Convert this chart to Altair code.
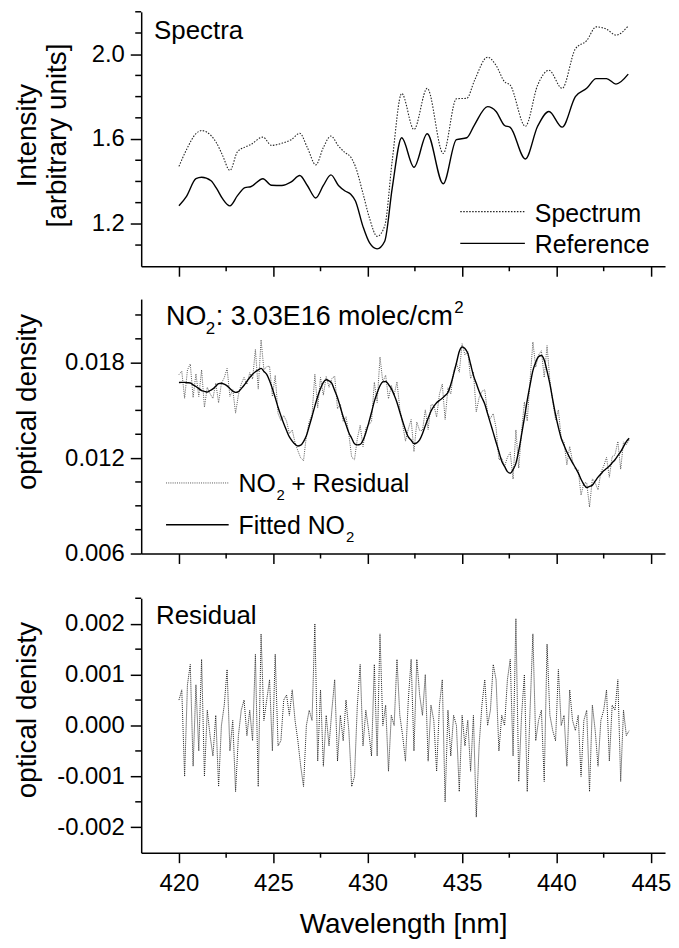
import altair as alt
import pandas as pd

FONT = "Liberation Sans"
W = 527
H = 256
X_DOMAIN = [418, 445.75]

x_major = [420, 425, 430, 435, 440, 445]
x_minor = [422.5, 427.5, 432.5, 437.5, 442.5]

# ---------------- Panel 1: spectra ----------------
spec_wl = [420.0, 420.4, 420.9, 421.2, 421.7, 422.0, 422.3, 422.7, 423.1, 423.5,
           423.8, 424.45, 424.9, 425.45, 425.95, 426.4, 426.8, 427.25, 427.65, 428.05,
           428.45, 428.8, 429.1, 429.35, 429.75, 430.1, 430.5, 430.9, 431.3, 431.8,
           432.45, 433.15, 434.0, 434.7, 435.25, 435.65, 436.35, 436.8, 437.25, 437.55,
           438.35, 439.0, 439.6, 440.3, 441.0, 441.6, 442.1, 442.65, 443.15, 443.8]
spectrum = [1.471, 1.550, 1.625, 1.640, 1.616, 1.580, 1.525, 1.452, 1.540, 1.562,
            1.574, 1.609, 1.570, 1.580, 1.597, 1.627, 1.560, 1.478, 1.560, 1.614,
            1.567, 1.536, 1.515, 1.470, 1.343, 1.225, 1.141, 1.190, 1.500, 1.815,
            1.645, 1.839, 1.532, 1.790, 1.792, 1.875, 1.986, 1.947, 1.870, 1.854,
            1.660, 1.854, 1.924, 1.839, 2.025, 2.064, 2.129, 2.118, 2.090, 2.133]
reference = [1.285, 1.330, 1.413, 1.420, 1.403, 1.366, 1.320, 1.285, 1.333, 1.371,
             1.375, 1.413, 1.382, 1.381, 1.398, 1.428, 1.381, 1.322, 1.381, 1.431,
             1.381, 1.355, 1.340, 1.308, 1.187, 1.110, 1.082, 1.118, 1.370, 1.606,
             1.467, 1.625, 1.389, 1.597, 1.606, 1.666, 1.753, 1.730, 1.664, 1.655,
             1.506, 1.660, 1.730, 1.656, 1.800, 1.839, 1.885, 1.885, 1.859, 1.906]
p1_y_domain = [1.0, 2.2]
p1_y_major = [1.2, 1.6, 2.0]
p1_y_minor = [1.1, 1.3, 1.4, 1.5, 1.7, 1.8, 1.9, 2.1, 2.2]

# ---------------- Panels 2 and 3: NO2 fit and residual ----------------
grid_start = 420.0
grid_step = 0.15
fitted_no2 = [
    0.01675, 0.01676, 0.01676, 0.01674, 0.01672, 0.01661, 0.01650, 0.01637, 0.01625, 0.01620,
    0.01615, 0.01625, 0.01635, 0.01652, 0.01668, 0.01671, 0.01665, 0.01654, 0.01638, 0.01621,
    0.01613, 0.01618, 0.01637, 0.01658, 0.01683, 0.01707, 0.01727, 0.01743, 0.01754, 0.01764,
    0.01745, 0.01726, 0.01687, 0.01637, 0.01580, 0.01520, 0.01467, 0.01417, 0.01373, 0.01333,
    0.01307, 0.01287, 0.01276, 0.01281, 0.01304, 0.01340, 0.01400, 0.01462, 0.01527, 0.01587,
    0.01637, 0.01676, 0.01693, 0.01686, 0.01670, 0.01625, 0.01580, 0.01520, 0.01460, 0.01410,
    0.01360, 0.01325, 0.01290, 0.01283, 0.01286, 0.01312, 0.01360, 0.01420, 0.01487, 0.01557,
    0.01610, 0.01655, 0.01679, 0.01682, 0.01663, 0.01637, 0.01597, 0.01550, 0.01490, 0.01432,
    0.01377, 0.01333, 0.01312, 0.01291, 0.01296, 0.01314, 0.01353, 0.01403, 0.01450, 0.01495,
    0.01525, 0.01548, 0.01563, 0.01576, 0.01593, 0.01613, 0.01663, 0.01728, 0.01798, 0.01870,
    0.01899, 0.01889, 0.01860, 0.01790, 0.01720, 0.01670, 0.01620, 0.01580, 0.01540, 0.01480,
    0.01420, 0.01360, 0.01300, 0.01240, 0.01180, 0.01148, 0.01115, 0.01105, 0.01128, 0.01167,
    0.01247, 0.01347, 0.01453, 0.01563, 0.01660, 0.01750, 0.01803, 0.01838, 0.01845, 0.01817,
    0.01747, 0.01667, 0.01567, 0.01473, 0.01393, 0.01325, 0.01280, 0.01238, 0.01203, 0.01170,
    0.01140, 0.01107, 0.01067, 0.01034, 0.01015, 0.01022, 0.01030, 0.01055, 0.01080, 0.01100,
    0.01120, 0.01135, 0.01150, 0.01170, 0.01190, 0.01215, 0.01240, 0.01272, 0.01304, 0.01325]
# residual in units of 1e-4 optical density
residual_e4 = [
    5, 7, -10, 8, 12, -8, 8, -5, 13, -10,
    3, -2, -6, 2, -12, 0, 4, 11, -5, 1,
    -13, -2, 3, 5, -2, 3, -3, 14, -12, 18,
    1, 5, 9, -5, 14, -4, -3, 5, 6, 2,
    7, 1, -3, -8, -12, 0, 3, 1, 20, -7,
    7, -8, 2, -4, 3, 9, -7, 2, -3, 5,
    -1, -12, -10, 4, 12, -4, 3, -1, -6, 12,
    -6, 18, 0, 4, -9, 2, 0, 13, 2, -2,
    -7, 5, 13, -5, 13, 6, 2, 10, -7, 4,
    1, -9, 4, 9, -15, 3, -6, 2, 0, -13,
    2, -4, 1, -9, 2, -18, -4, 4, 9, 0,
    3, 12, 9, -5, 2, 0, 9, 13, -6, 21,
    -11, 2, 10, -13, 3, 18, -3, 1, 3, -11,
    16, 2, -1, -3, 11, 0, 2, -8, 7, 1,
    -1, 2, -10, 1, 3, -13, 4, -1, -8, 1,
    3, 7, -7, 4, 3, 9, -11, 3, -2, -1]
p2_y_domain = [0.006, 0.022]
p2_y_major = [0.006, 0.012, 0.018]
p2_y_minor = [0.0075, 0.009, 0.0105, 0.0135, 0.015, 0.0165, 0.0195, 0.021]
p3_y_domain = [-0.0025, 0.0025]
p3_y_major = [-0.002, -0.001, 0.0, 0.001, 0.002]
p3_y_minor = [-0.0015, -0.0005, 0.0005, 0.0015, 0.0025]

# ---------------- tables ----------------
df_spec = pd.DataFrame({"wl": spec_wl, "spectrum": spectrum, "reference": reference})
wl_grid = [round(grid_start + grid_step * i, 2) for i in range(len(fitted_no2))]
residual = [v * 1e-4 for v in residual_e4]
df_no2 = pd.DataFrame({
    "wl": wl_grid,
    "fitted": fitted_no2,
    "plusres": [f + r for f, r in zip(fitted_no2, residual)],
    "residual": residual,
})

AX = dict(grid=False, domainColor="black", domainWidth=1.5, tickColor="black",
          tickWidth=1.5, labelFont=FONT, labelColor="black", titleFont=FONT,
          titleColor="black", titleFontWeight="normal", labelFlush=False)

xs = alt.Scale(domain=X_DOMAIN, nice=False, zero=False)


def xaxis(show_labels):
    if show_labels:
        return alt.Axis(values=x_major, tickSize=10, labelFontSize=24, labelPadding=9,
                        format="d", title="Wavelength [nm]", titleFontSize=28,
                        titleY=80, titleBaseline="alphabetic", **AX)
    return alt.Axis(values=x_major, tickSize=10, labels=False, title=None, **AX)


def yaxis(values, title, title_x, title_y, label_expr):
    return alt.Axis(values=values, tickSize=11, labelFontSize=24, labelPadding=6,
                    labelExpr=label_expr, title=title, titleFontSize=28,
                    titleX=title_x, titleY=title_y, titleBaseline="bottom",
                    titleAlign="center", titleLineHeight=30, **AX)


def yminor(values, scale, axis):
    return alt.Chart(pd.DataFrame({"v": values})).mark_rule(
        color="black", strokeWidth=1.5).encode(
        y=alt.Y("v:Q", scale=scale, axis=axis), x=alt.value(-6), x2=alt.value(0))


def xminor(axis):
    return alt.Chart(pd.DataFrame({"v": x_minor})).mark_rule(
        color="black", strokeWidth=1.5).encode(
        x=alt.X("v:Q", scale=xs, axis=axis), y=alt.value(H), y2=alt.value(H + 5))


def label(text, x, y, size):
    return alt.Chart(pd.DataFrame({"t": [text]})).mark_text(
        font=FONT, fontSize=size, align="left", baseline="alphabetic",
        color="black").encode(text="t:N", x=alt.value(x), y=alt.value(y))


def lrule(x1, x2, y, **style):
    return alt.Chart(pd.DataFrame({"a": [0]})).mark_rule(**style).encode(
        x=alt.value(x1), x2=alt.value(x2), y=alt.value(y))


DOT1 = dict(color="#222222", strokeDash=[1.5, 1.5], strokeWidth=1.1)
DOT2 = dict(color="#555555", strokeDash=[1, 1.2], strokeWidth=1)
DOT3 = dict(color="#222222", strokeDash=[1, 1], strokeWidth=1)
SOLID = dict(color="black", strokeWidth=1.4)

# ---------------- Panel 1 ----------------
ys1 = alt.Scale(domain=p1_y_domain, nice=False, zero=False)
ax1 = yaxis(p1_y_major, ["Intensity", "[arbitrary units]"], -100, 124,
            "format(datum.value, '.1f')")
xa1 = xaxis(False)
base1 = alt.Chart(df_spec)
p1 = alt.layer(
    base1.mark_line(interpolate="monotone", **DOT1).encode(
        x=alt.X("wl:Q", scale=xs, axis=xa1),
        y=alt.Y("spectrum:Q", scale=ys1, axis=ax1)),
    base1.mark_line(interpolate="monotone", **SOLID).encode(
        x=alt.X("wl:Q", scale=xs, axis=xa1),
        y=alt.Y("reference:Q", scale=ys1, axis=ax1)),
    yminor(p1_y_minor, ys1, ax1),
    xminor(xa1),
    label("Spectra", 13, 27, 26),
    lrule(321, 386, 201, **DOT1),
    label("Spectrum", 396, 211, 25),
    lrule(321, 386, 233, **SOLID),
    label("Reference", 396, 243, 25),
).properties(width=W, height=H)

# ---------------- Panel 2 ----------------
ys2 = alt.Scale(domain=p2_y_domain, nice=False, zero=False)
ax2 = yaxis(p2_y_major, "optical density", -100, 103,
            "format(datum.value, '.3f')")
xa2 = xaxis(False)
base2 = alt.Chart(df_no2)
p2 = alt.layer(
    base2.mark_line(**DOT2).encode(
        x=alt.X("wl:Q", scale=xs, axis=xa2),
        y=alt.Y("plusres:Q", scale=ys2, axis=ax2)),
    base2.mark_line(interpolate="monotone", **SOLID).encode(
        x=alt.X("wl:Q", scale=xs, axis=xa2),
        y=alt.Y("fitted:Q", scale=ys2, axis=ax2)),
    yminor(p2_y_minor, ys2, ax2),
    xminor(xa2),
    label("NO", 25, 26, 27),
    label("2", 65, 35, 17),
    label(": 3.03E16 molec/cm", 75, 26, 27),
    label("2", 315, 14, 17),
    lrule(25, 88, 185, **DOT2),
    label("NO", 98, 194, 25),
    label("2", 136, 202, 15),
    label("+ Residual", 151, 194, 25),
    lrule(25, 88, 227, **SOLID),
    label("Fitted NO", 98, 236, 25),
    label("2", 206, 244, 15),
).properties(width=W, height=H)

# ---------------- Panel 3 ----------------
ys3 = alt.Scale(domain=p3_y_domain, nice=False, zero=False)
ax3 = yaxis(p3_y_major, "optical denisty", -100, 112,
            "replace(format(datum.value, '.3f'), '\u2212', '-')")
xa3 = xaxis(True)
base3 = alt.Chart(df_no2)
p3 = alt.layer(
    base3.mark_line(**DOT3).encode(
        x=alt.X("wl:Q", scale=xs, axis=xa3),
        y=alt.Y("residual:Q", scale=ys3, axis=ax3)),
    yminor(p3_y_minor, ys3, ax3),
    xminor(xa3),
    label("Residual", 15, 26, 26),
    lrule(0, 1, -11, opacity=0),
).properties(width=W, height=H)

chart = alt.vconcat(p1, p2, p3, spacing=22).configure_view(stroke=None).properties(
    padding={"left": 6, "top": 0, "right": 0, "bottom": 2})

chart.save("out.html", embed_options={"renderer": "svg", "actions": False})
